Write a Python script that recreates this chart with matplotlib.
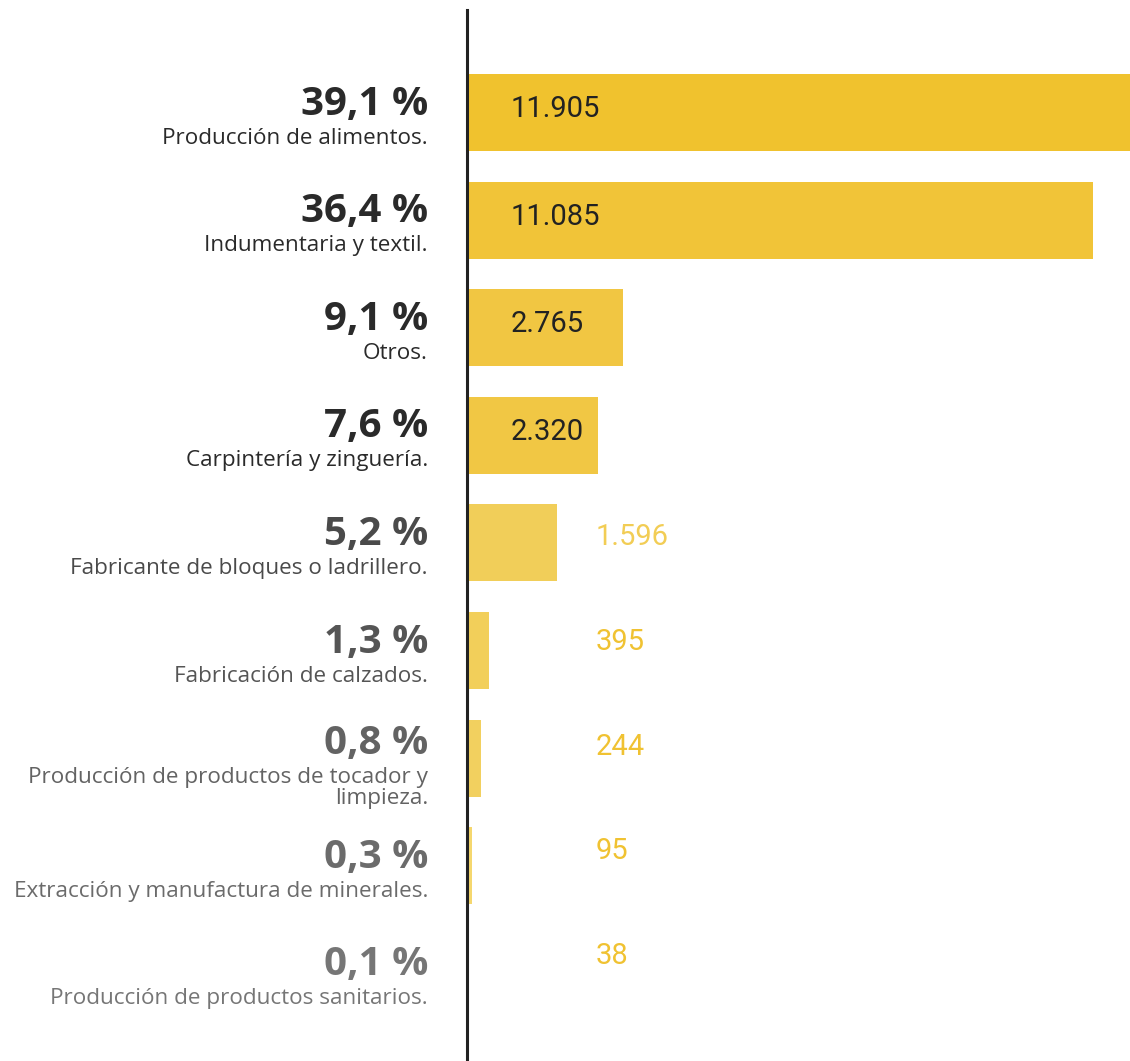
import matplotlib.pyplot as plt

# Datos
porcentajes = ['39,1 %', '36,4 %', '9,1 %', '7,6 %', '5,2 %', '1,3 %', '0,8 %', '0,3 %', '0,1 %']
rubros = [
    'Producción de alimentos.',
    'Indumentaria y textil.',
    'Otros.',
    'Carpintería y zinguería.',
    'Fabricante de bloques o ladrillero.',
    'Fabricación de calzados.',
    'Producción de productos de tocador y\nlimpieza.',
    'Extracción y manufactura de minerales.',
    'Producción de productos sanitarios.',
]
valores = [11905, 11085, 2765, 2320, 1596, 395, 244, 95, 38]

# Estilo
colores_barra = ['#F0C22E', '#F1C438', '#F1C642', '#F1C744', '#F1CE59',
                 '#F2CF5A', '#F2D05F', '#F5D76E', '#E3C45A']
colores_texto = ['#2a2a2a', '#2a2a2a', '#2a2a2a', '#2a2a2a', '#4a4a4a',
                 '#555555', '#636363', '#6b6b6b', '#767676']
colores_valor_fuera = ['#F2CD55', '#F0C232', '#F0C232', '#F0C232', '#F0C232']

PX = 72 / 100  # pixeles -> puntos

fig = plt.figure(figsize=(11.30, 10.61), dpi=100)
ax = fig.add_axes([467 / 1130, 0, 663 / 1130, 1051 / 1061])

y = list(range(len(valores)))
ax.barh(y, valores, height=0.716, color=colores_barra, zorder=1)

ax.set_xlim(0, 11740)
ax.set_ylim(8.815, -0.9526)
ax.set_xticks([])
ax.set_yticks([])
for s in ['top', 'right', 'bottom']:
    ax.spines[s].set_visible(False)
ax.spines['left'].set_linewidth(2.2)
ax.spines['left'].set_color('#222222')

fuera = 0
for i, (pct, rub, val) in enumerate(zip(porcentajes, rubros, valores)):
    lineas = rub.split('\n')
    desplaz = -6.5 if len(lineas) > 1 else 0
    # porcentaje
    ax.annotate(pct, xy=(0, i), xytext=(-39 * PX, (-2 - desplaz) * PX),
                textcoords='offset points', ha='right', va='baseline',
                fontsize=29, fontweight='bold', family='Open Sans',
                color=colores_texto[i], annotation_clip=False)
    # descripcion
    for k, linea in enumerate(lineas):
        ax.annotate(linea, xy=(0, i),
                    xytext=(-39 * PX, (-31 - desplaz - 21 * k) * PX),
                    textcoords='offset points', ha='right', va='baseline',
                    fontsize=16.2, family='Open Sans',
                    color=colores_texto[i], annotation_clip=False)
    # valor
    etiqueta = f'{val:,}'.replace(',', '.')
    if val > 2000:
        ax.annotate(etiqueta, xy=(0, i), xytext=(44 * PX, -4.5 * PX),
                    textcoords='offset points', ha='left', va='baseline',
                    fontsize=21, family='Roboto', color='#222222')
    else:
        ax.annotate(etiqueta, xy=(0, i),
                    xytext=(129 * PX, (-2 + 2.75 * fuera) * PX),
                    textcoords='offset points', ha='left', va='baseline',
                    fontsize=21, family='Roboto',
                    color=colores_valor_fuera[fuera])
        fuera += 1

fig.savefig('out.png', dpi=100)
